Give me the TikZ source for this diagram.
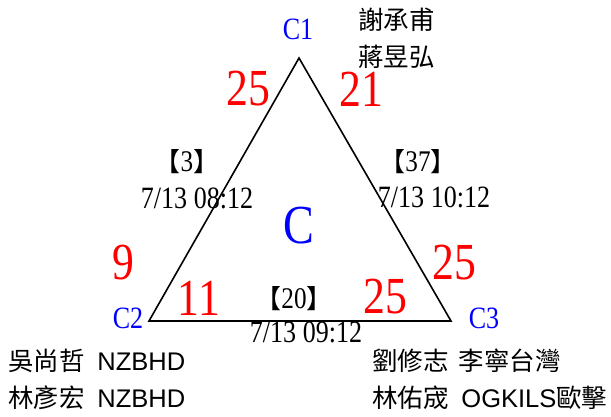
\documentclass[tikz,border=0pt]{standalone}
\usepackage{fontspec}
\setmainfont[FakeStretch=0.84]{Liberation Serif}
\newfontfamily\cjk{Noto Sans CJK TC}
\newfontfamily\lsans{Liberation Sans}
\newcommand\openbr{{\cjk\fontsize{26}{26}\selectfont 【}}
\newcommand\closebr{{\cjk\fontsize{26}{26}\selectfont 】}}
\usetikzlibrary{positioning}

\begin{document}
\begin{tikzpicture}[x=1pt,y=-1pt,
    corner/.style={text=blue,font=\fontsize{31}{33}\selectfont},
    score/.style={text=red,font=\fontsize{52}{54}\selectfont},
    matchno/.style={font=\fontsize{30}{32}\selectfont},
    stamp/.style={font=\fontsize{31}{33}\selectfont},
    player/.style={anchor=west,inner sep=0pt,font=\lsans\fontsize{25.5}{27}\selectfont}]
            \useasboundingbox (0,0) rectangle (611,416);
            \coordinate (v1) at (299,58);
            \coordinate (v2) at (149,321);
            \coordinate (v3) at (451,321);
            \draw[line width=1.6pt,line join=miter] (v1) -- (v2) -- (v3) -- cycle;
            \node[corner] (c1) at (298,29) {C1};
            \node[corner] (c2) at (128,318) {C2};
            \node[corner] (c3) at (484,318) {C3};
            \node[text=blue,font=\fontsize{55}{57}\selectfont] (cc) at (299,226) {C};
            % scores
            \node[score] (s1a) at (248,89) {25};
            \node[score] (s1b) at (361,89) {21};
            \node[score] (s2a) at (123,263) {9};
            \node[score] (s2b) at (199,298) {11};
            \node[score] (s3a) at (454,263) {25};
            \node[score] (s3b) at (385,297) {25};
            % matches
            \node[matchno] (m12) at (187,162) {\openbr 3\closebr};
            \node[stamp] (t12) at (197,198) {7/13 08:12};
            \node[matchno] (m13) at (418,162) {\openbr 37\closebr};
            \node[stamp] (t13) at (434,197) {7/13 10:12};
            \node[matchno] (m23) at (294,299) {\openbr 20\closebr};
            \node[stamp] (t23) at (306,332) {7/13 09:12};
            % players
            \node[player] (p1a) at (358,20) {\cjk 謝承甫};
            \node[player] (p1b) at (358,57) {\cjk 蔣昱弘};
            \node[player] (p2a) at (8,361) {{\cjk 吳尚哲}\hspace{0.5em}NZBHD};
            \node[player] (p2b) at (8,398) {{\cjk 林彥宏}\hspace{0.5em}NZBHD};
            \node[player] (p3a) at (372,361) {{\cjk 劉修志\hspace{0.4em}李寧台灣}};
            \node[player] (p3b) at (372,398) {{\cjk 林佑宬}\hspace{0.5em}OGKILS{\cjk 歐擊}};
        \end{tikzpicture}
\end{document}
